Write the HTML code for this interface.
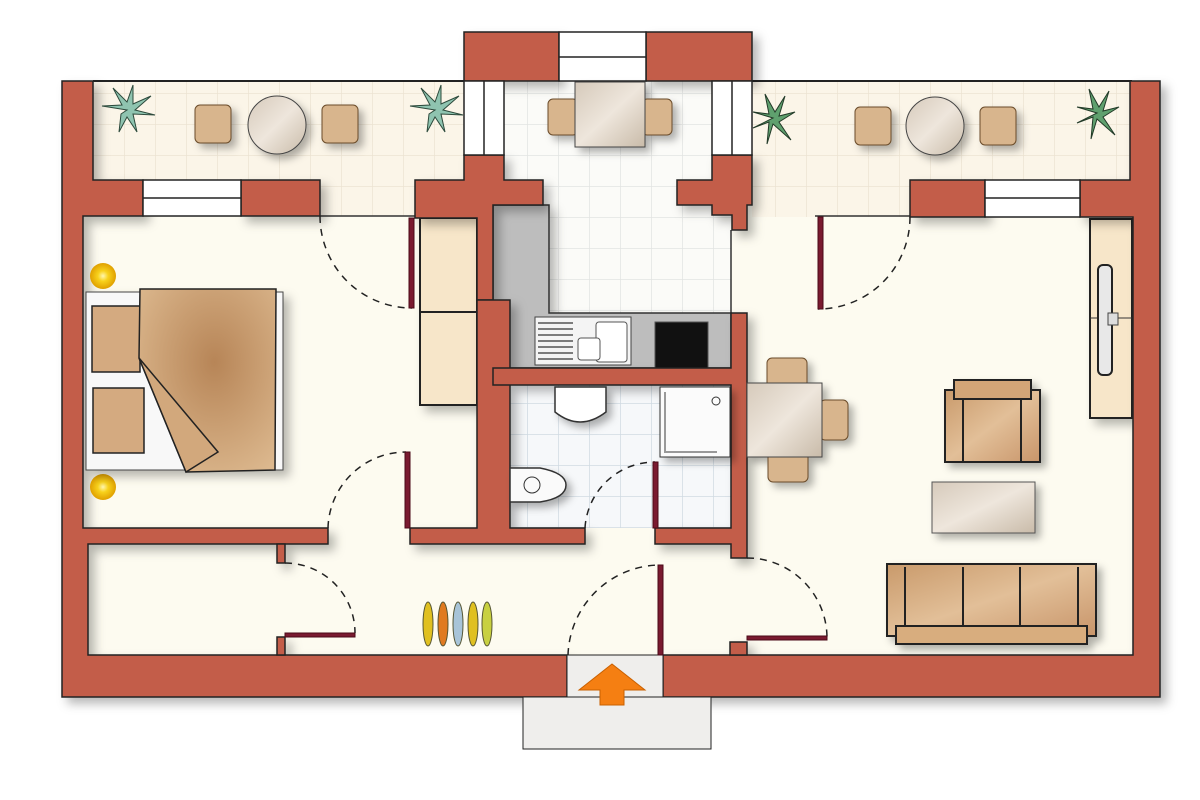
<!DOCTYPE html>
<html><head><meta charset="utf-8"><style>
html,body{margin:0;padding:0;background:#fff;}
svg{display:block;}
</style></head><body>
<svg width="1200" height="800" viewBox="0 0 1200 800" xmlns="http://www.w3.org/2000/svg">
<defs>
<filter id="sh" x="-10%" y="-10%" width="130%" height="130%"><feDropShadow dx="6" dy="6" stdDeviation="5" flood-color="#000" flood-opacity="0.28"/></filter>
<filter id="sh2" x="-20%" y="-20%" width="150%" height="150%"><feDropShadow dx="5" dy="5" stdDeviation="4" flood-color="#000" flood-opacity="0.3"/></filter>
<pattern id="tile" width="31" height="31" patternUnits="userSpaceOnUse"><rect width="31" height="31" fill="#fbf5e8"/><path d="M0 0H31M0 0V31" stroke="#ece3d2" stroke-width="1.5"/></pattern>
<pattern id="ktile" width="31" height="31" patternUnits="userSpaceOnUse"><rect width="31" height="31" fill="#fbfbf8"/><path d="M0 0H31M0 0V31" stroke="#e2e4e2" stroke-width="1.5"/></pattern>
<pattern id="btile" width="31" height="31" patternUnits="userSpaceOnUse"><rect width="31" height="31" fill="#f6f8fa"/><path d="M0 0H31M0 0V31" stroke="#d0dae2" stroke-width="1.5"/></pattern>
<linearGradient id="tbl" x1="0" y1="0" x2="1" y2="1"><stop offset="0" stop-color="#d6cabb"/><stop offset="0.5" stop-color="#eee6dc"/><stop offset="1" stop-color="#c9bba9"/></linearGradient>
<radialGradient id="duv" cx="0.55" cy="0.4" r="0.7"><stop offset="0" stop-color="#b78557"/><stop offset="1" stop-color="#dcb88e"/></radialGradient>
<linearGradient id="sofa" x1="0" y1="0" x2="1" y2="1"><stop offset="0" stop-color="#c99a6b"/><stop offset="0.5" stop-color="#e2bf98"/><stop offset="1" stop-color="#c8956a"/></linearGradient>
<radialGradient id="lamp"><stop offset="0" stop-color="#fff6b0"/><stop offset="0.4" stop-color="#f8d21c"/><stop offset="1" stop-color="#e0a000"/></radialGradient>
</defs>

<!-- floors -->
<rect x="62" y="81" width="1098" height="616" fill="#fdfbf0"/>
<rect x="93" y="81" width="372" height="135" fill="url(#tile)"/>
<rect x="752" y="81" width="380" height="136" fill="url(#tile)"/>
<rect x="504" y="81" width="208" height="232" fill="url(#ktile)"/>
<rect x="549" y="205" width="182" height="108" fill="url(#ktile)"/>
<rect x="510" y="385" width="221" height="143" fill="url(#btile)"/>
<line x1="93" y1="81" x2="465" y2="81" stroke="#222" stroke-width="2"/>
<line x1="752" y1="81" x2="1132" y2="81" stroke="#222" stroke-width="2"/>
<line x1="320" y1="216" x2="415" y2="216" stroke="#333" stroke-width="1.5"/>
<line x1="815" y1="216" x2="910" y2="216" stroke="#333" stroke-width="1.5"/>
<line x1="731" y1="230" x2="731" y2="313" stroke="#333" stroke-width="1.5"/>

<!-- kitchen counters -->
<g filter="url(#sh)">
<path d="M493 205H549V313H731V368H493Z" fill="#bdbdbd" stroke="#333" stroke-width="1.5"/>
</g>
<rect x="535" y="317" width="96" height="48" fill="#f4f4f4" stroke="#444"/>
<g stroke="#555" stroke-width="1.5"><line x1="538" y1="323" x2="573" y2="323"/><line x1="538" y1="329" x2="573" y2="329"/><line x1="538" y1="335" x2="573" y2="335"/><line x1="538" y1="341" x2="573" y2="341"/><line x1="538" y1="347" x2="573" y2="347"/><line x1="538" y1="353" x2="573" y2="353"/><line x1="538" y1="359" x2="573" y2="359"/></g>
<rect x="596" y="322" width="31" height="40" rx="3" fill="#fff" stroke="#555"/>
<rect x="578" y="338" width="22" height="22" rx="3" fill="#fff" stroke="#555"/>
<rect x="655" y="322" width="53" height="46" fill="#111" stroke="#555"/>
<!-- closet bedroom -->
<g filter="url(#sh)">
<rect x="420" y="218" width="57" height="187" fill="#f7e6c9" stroke="#222" stroke-width="2"/>
</g>
<line x1="420" y1="312" x2="477" y2="312" stroke="#222" stroke-width="2"/>
<!-- TV cabinet -->
<g filter="url(#sh)"><rect x="1090" y="219" width="42" height="199" fill="#f7e6c9" stroke="#222" stroke-width="2"/></g>
<line x1="1090" y1="318" x2="1132" y2="318" stroke="#333"/>
<rect x="1098" y="265" width="14" height="110" rx="5" fill="#e8e8e8" stroke="#222" stroke-width="2"/>
<rect x="1108" y="313" width="10" height="12" fill="#ddd" stroke="#444"/>

<!-- walls -->
<g filter="url(#sh)" fill="#c35d49" stroke="#222" stroke-width="1.5">
<path d="M62 81H93V180H143V216H83V528H328V544H88V655H567V697H62Z"/>
<rect x="241" y="180" width="79" height="36"/>
<path d="M415 180H464V155H504V180H543V205H493V300H477V218H415Z"/>
<path d="M477 300H510V528H585V544H410V528H477Z"/>
<path d="M493 368H731V313H747V558H731V544H655V528H731V385H493Z"/>
<path d="M677 180H712V155H752V205H747V230H732V215H712V205H677Z"/>
<rect x="910" y="180" width="75" height="37"/>
<path d="M1080 180H1130V81H1160V697H663V655H1133V217H1080Z"/>
<rect x="730" y="642" width="17" height="13"/>
<rect x="277" y="544" width="8" height="19"/>
<rect x="277" y="637" width="8" height="18"/>
<rect x="464" y="32" width="95" height="49"/>
<rect x="646" y="32" width="106" height="49"/>
</g>
<!-- windows -->
<g fill="#fff" stroke="#222" stroke-width="1.5">
<rect x="559" y="32" width="87" height="49"/><line x1="559" y1="57" x2="646" y2="57"/>
<rect x="464" y="81" width="40" height="74"/><line x1="484" y1="81" x2="484" y2="155"/>
<rect x="712" y="81" width="40" height="74"/><line x1="732" y1="81" x2="732" y2="155"/>
<rect x="143" y="180" width="98" height="36"/><line x1="143" y1="198" x2="241" y2="198"/>
<rect x="985" y="180" width="95" height="37"/><line x1="985" y1="198" x2="1080" y2="198"/>
</g>

<!-- entrance -->
<rect x="567" y="655" width="96" height="42" fill="#efeeec" stroke="#222"/>
<rect x="523" y="697" width="188" height="52" fill="#efeeec" stroke="#222"/>
<path d="M612 664L645 690H624V705H600V690H579Z" fill="#f57f12" stroke="#c96000"/>

<!-- bathroom fixtures -->
<g filter="url(#sh2)">
<path d="M555 387H606V412Q580 432 555 412Z" fill="#fff" stroke="#333" stroke-width="1.5"/>
<rect x="660" y="387" width="70" height="70" fill="#fbfbfb" stroke="#333"/>
<path d="M510 468H540Q566 473 566 485Q566 498 540 502H510Z" fill="#fafafa" stroke="#333" stroke-width="1.5"/>
</g>
<path d="M665 392V452H717" fill="none" stroke="#999" stroke-width="2"/>
<circle cx="716" cy="401" r="4" fill="none" stroke="#333"/>
<circle cx="532" cy="485" r="8" fill="none" stroke="#333"/>

<!-- bed -->
<circle cx="103" cy="276" r="13" fill="url(#lamp)"/>
<circle cx="103" cy="487" r="13" fill="url(#lamp)"/>
<g filter="url(#sh)">
<rect x="86" y="292" width="197" height="178" fill="#f8f8f8" stroke="#444"/>
</g>
<rect x="92" y="306" width="48" height="66" fill="#d4aa80" stroke="#222" stroke-width="1.5"/>
<rect x="93" y="388" width="51" height="65" fill="#d4aa80" stroke="#222" stroke-width="1.5"/>
<path d="M140 289L276 289L275 470L186 472L139 358Z" fill="url(#duv)" stroke="#222" stroke-width="1.5"/>
<path d="M139 358L218 452L186 472Z" fill="#d2a87c" stroke="#222" stroke-width="1.5"/>

<!-- dining center -->
<g filter="url(#sh2)">
<rect x="548" y="99" width="30" height="36" rx="5" fill="#d8b58d" stroke="#6b4c2a"/>
<rect x="642" y="99" width="30" height="36" rx="5" fill="#d8b58d" stroke="#6b4c2a"/>
<rect x="575" y="82" width="70" height="65" fill="url(#tbl)" stroke="#444"/>
<rect x="195" y="105" width="36" height="38" rx="5" fill="#d8b58d" stroke="#6b4c2a"/>
<rect x="322" y="105" width="36" height="38" rx="5" fill="#d8b58d" stroke="#6b4c2a"/>
<circle cx="277" cy="125" r="29" fill="url(#tbl)" stroke="#444"/>
<rect x="855" y="107" width="36" height="38" rx="5" fill="#d8b58d" stroke="#6b4c2a"/>
<rect x="980" y="107" width="36" height="38" rx="5" fill="#d8b58d" stroke="#6b4c2a"/>
<circle cx="935" cy="126" r="29" fill="url(#tbl)" stroke="#444"/>
<rect x="767" y="358" width="40" height="30" rx="5" fill="#d8b58d" stroke="#6b4c2a"/>
<rect x="768" y="452" width="40" height="30" rx="5" fill="#d8b58d" stroke="#6b4c2a"/>
<rect x="820" y="400" width="28" height="40" rx="5" fill="#d8b58d" stroke="#6b4c2a"/>
<rect x="747" y="383" width="75" height="74" fill="url(#tbl)" stroke="#444"/>
<rect x="945" y="390" width="95" height="72" fill="url(#sofa)" stroke="#222" stroke-width="2"/>
<rect x="954" y="380" width="77" height="19" fill="#d2a577" stroke="#222" stroke-width="2"/>
<rect x="932" y="482" width="103" height="51" fill="url(#tbl)" stroke="#555"/>
<rect x="887" y="564" width="209" height="72" fill="url(#sofa)" stroke="#222" stroke-width="2"/>
<rect x="896" y="626" width="191" height="18" fill="#d8ad7e" stroke="#222" stroke-width="2"/>
</g>
<g stroke="#222" stroke-width="2"><line x1="963" y1="400" x2="963" y2="462"/><line x1="1021" y1="400" x2="1021" y2="462"/>
<line x1="905" y1="567" x2="905" y2="626"/><line x1="963" y1="567" x2="963" y2="626"/><line x1="1020" y1="567" x2="1020" y2="626"/><line x1="1078" y1="567" x2="1078" y2="626"/></g>

<!-- plants -->
<g fill="#8fc4b0" stroke="#2d4a3c" stroke-width="1">
<g transform="translate(127,110)"><path d="M0 0L-25 -4L-5 -5L-14 -22L0 -8L6 -25L6 -6L24 -14L8 0L28 5L6 4L10 22L0 7L-8 22L-6 4Z"/></g>
<g transform="translate(435,110)"><path d="M0 0L-25 -4L-5 -5L-14 -22L0 -8L6 -25L6 -6L24 -14L8 0L28 5L6 4L10 22L0 7L-8 22L-6 4Z"/></g>
</g>
<g fill="#5fa06e" stroke="#223a28" stroke-width="1">
<g transform="translate(773,118)"><path d="M0 0L-20 -6L-4 -4L-8 -24L2 -6L12 -22L6 -2L22 -6L6 4L18 22L0 6L-6 26L-4 4L-20 10Z"/></g>
<g transform="translate(1097,113)"><path d="M0 0L-20 -6L-4 -4L-8 -24L2 -6L12 -22L6 -2L22 -6L6 4L18 22L0 6L-6 26L-4 4L-20 10Z"/></g>
</g>
<!-- shoes -->
<ellipse cx="428" cy="624" rx="5" ry="22" fill="#e0c020" stroke="#553"/>
<ellipse cx="443" cy="624" rx="5" ry="22" fill="#e07a20" stroke="#553"/>
<ellipse cx="458" cy="624" rx="5" ry="22" fill="#a8c4d8" stroke="#553"/>
<ellipse cx="473" cy="624" rx="5" ry="22" fill="#e0c020" stroke="#553"/>
<ellipse cx="487" cy="624" rx="5" ry="22" fill="#c8d040" stroke="#553"/>

<!-- doors -->
<g fill="none" stroke="#222" stroke-width="1.5" stroke-dasharray="7 6">
<path d="M320 216A92 92 0 0 0 412 308"/>
<path d="M910 217A92 92 0 0 1 818 309"/>
<path d="M328 528A78 78 0 0 1 406 452"/>
<path d="M585 528A70 70 0 0 1 655 462"/>
<path d="M285 563A70 70 0 0 1 355 633"/>
<path d="M568 655A93 93 0 0 1 660 565"/>
<path d="M747 558A80 80 0 0 1 827 638"/>
</g>
<g fill="#7a1a30" stroke="#4a0a18">
<rect x="409" y="218" width="5" height="90"/>
<rect x="818" y="217" width="5" height="92"/>
<rect x="405" y="452" width="5" height="76"/>
<rect x="653" y="462" width="5" height="66"/>
<rect x="285" y="633" width="70" height="4"/>
<rect x="658" y="565" width="5" height="90"/>
<rect x="747" y="636" width="80" height="4"/>
</g>
</svg>
</body></html>
